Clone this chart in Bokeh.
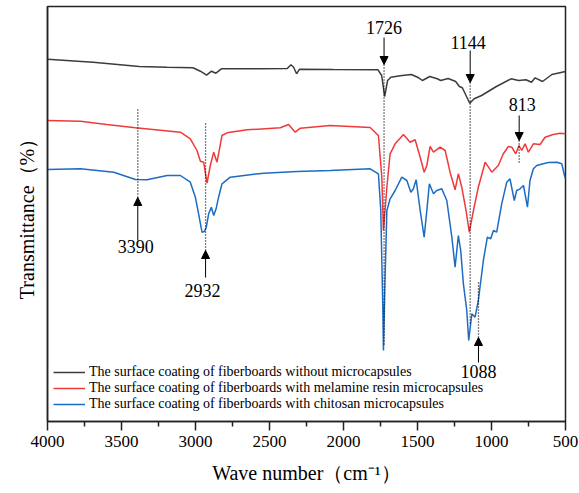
from bokeh.plotting import figure
from bokeh.models import Range1d, FixedTicker, Arrow, NormalHead, Label, Legend, LegendItem
from bokeh.embed import file_html
from bokeh.resources import INLINE

# ---------------- data (wavenumber cm-1, transmittance in arbitrary units) ----------------
black_wn = [4000, 3692, 3380, 3192, 3017, 2967, 2925, 2892, 2862, 2825, 2567, 2380, 2355, 2337,
            2317, 2297, 2068, 1767, 1742, 1722, 1702, 1680, 1617, 1542, 1492, 1467, 1417, 1367,
            1343, 1293, 1242, 1217, 1197, 1172, 1147, 1117, 1067, 967, 867, 817, 767, 730, 705,
            655, 592, 500]
black_t = [362.3, 359.3, 355, 354.3, 353.7, 350.3, 346.3, 350.3, 348.3, 352.7, 352.7, 353, 356.7,
           354.3, 347.7, 352.3, 352, 351.7, 346, 325, 341, 344.3, 345.7, 347, 343.7, 341, 345,
           342.7, 341, 343, 340, 335, 333.7, 326, 318.3, 322.7, 326, 335, 342.7, 341, 341.7,
           339.3, 343.7, 340, 347, 350]

red_wn = [4000, 3777, 3600, 3406, 3102, 3035, 2990, 2967, 2945, 2922, 2900, 2877, 2855, 2844,
          2821, 2787, 2652, 2427, 2371, 2326, 2292, 2090, 1820, 1764, 1741, 1730, 1707, 1685,
          1651, 1595, 1550, 1516, 1482, 1455, 1437, 1415, 1392, 1347, 1313, 1280, 1246, 1224,
          1201, 1172, 1150, 1122, 1089, 1043, 998, 954, 920, 886, 863, 836, 814, 796, 773, 751,
          717, 672, 638, 583, 537, 500]
red_t = [301, 300.3, 297, 293.7, 289.3, 282.7, 271, 260.3, 259.3, 238.3, 256, 269.3, 259.3,
         267.7, 286, 288.7, 291.7, 293.7, 297, 289.3, 293.3, 296, 294, 286, 244.3, 191, 234.3,
         267.7, 277.7, 287, 279.3, 281.7, 264.3, 249.3, 256, 275, 269.3, 274.3, 271, 249.3,
         231.7, 247.7, 234.3, 211, 189.3, 211, 234.3, 259.3, 249.3, 256, 267.7, 275, 274.3,
         267.7, 276, 271, 277.7, 269.3, 277.7, 277, 284.3, 287, 288.3, 287.7]

blue_wn = [4000, 3777, 3552, 3406, 3327, 3192, 3102, 3035, 3001, 2979, 2956, 2940, 2927, 2911,
           2893, 2877, 2861, 2844, 2821, 2765, 2540, 2314, 2090, 1820, 1764, 1748, 1734, 1730,
           1719, 1707, 1685, 1651, 1606, 1572, 1545, 1528, 1509, 1482, 1455, 1437, 1420, 1392,
           1370, 1336, 1302, 1268, 1246, 1224, 1208, 1190, 1167, 1154, 1133, 1111, 1089, 1055,
           1028, 1005, 987, 965, 931, 897, 875, 846, 830, 807, 784, 757, 740, 717, 694, 650,
           616, 559, 525, 507, 500]
blue_t = [252, 252.7, 249.3, 242, 241.7, 246, 246, 239.3, 224.3, 207.7, 189.3, 190, 194.3, 207.7,
          214.3, 206, 212.7, 224.3, 237.7, 244.3, 248.3, 250, 251, 252.7, 247.7, 211, 111, 71,
          144.3, 211, 222.7, 231, 244.3, 241, 229.3, 232.7, 241.7, 211, 184.3, 211, 237.7,
          227.7, 231, 232.7, 221, 184.3, 154.3, 186, 171, 137.7, 111, 81, 107.7, 104.3, 121,
          161, 184.3, 182.7, 191, 189.3, 217.7, 239.3, 242.7, 221, 231, 232.7, 236, 214.3, 241,
          252.7, 256, 257.7, 259, 259.3, 257.7, 246, 243]

series_names = ["The surface coating of fiberboards without microcapsules",
                "The surface coating of fiberboards with melamine resin microcapsules",
                "The surface coating of fiberboards with chitosan microcapsules"]

peak_wn = [3390, 2932, 1726, 1144, 1088, 813]

x_major = [4000, 3500, 3000, 2500, 2000, 1500, 1000, 500]
x_minor = [3750, 3250, 2750, 2250, 1750, 1250, 750]

# --------------- annotation layout (positions only) ---------------
# per peak: label y, arrow tail y, arrow tip y, dotted end y, label x offset(px)
ann_layout = {
    3390: (175, 181, 224, 313, -2),
    2932: (131, 144, 171, 299, -3),
    1726: (394, 384, 357, 76, 0),
    1144: (379, 371, 339, 98, -2),
    1088: (50, 59, 84, 141, 0),
    813:  (317, 306, 281, 258, 3),
}

FONT = "Liberation Serif"

p = figure(width=579, height=493, x_range=Range1d(4000, 500), y_range=Range1d(0, 415),
           output_backend="svg", toolbar_location=None,
           min_border_left=47, min_border_right=14, min_border_top=6, min_border_bottom=72)
p.xgrid.visible = False
p.ygrid.visible = False
p.outline_line_color = "#222222"
p.outline_line_width = 1.5
p.outline_line_alpha = 1.0
p.background_fill_color = "white"

xa = p.xaxis[0]
xa.ticker = FixedTicker(ticks=x_major, minor_ticks=x_minor)
xa.major_tick_in = 0
xa.major_tick_out = 9
xa.minor_tick_in = 0
xa.minor_tick_out = 5
xa.axis_line_color = "#222222"
xa.axis_line_width = 1.5
xa.major_tick_line_color = "#222222"
xa.major_tick_line_width = 1.5
xa.minor_tick_line_color = "#222222"
xa.minor_tick_line_width = 1.5
xa.major_label_text_font = FONT
xa.major_label_text_font_size = "17px"
xa.major_label_text_color = "black"
xa.major_label_standoff = 5
xa.axis_label = "Wave number（cm⁻¹）"
xa.axis_label_text_font = FONT
xa.axis_label_text_font_style = "normal"
xa.axis_label_text_font_size = "20px"
xa.axis_label_text_color = "black"
xa.axis_label_standoff = 12

ya = p.yaxis[0]
ya.ticker = FixedTicker(ticks=[])
ya.major_tick_line_color = None
ya.minor_tick_line_color = None
ya.major_label_text_font_size = "0px"
ya.major_label_standoff = 0
ya.axis_line_color = "#222222"
ya.axis_line_width = 1.5
ya.axis_label = "Transmittance（%）"
ya.axis_label_text_font = FONT
ya.axis_label_text_font_style = "normal"
ya.axis_label_text_font_size = "20px"
ya.axis_label_text_color = "black"
ya.axis_label_standoff = 10

colors = ["#3c3c3c", "#f03a3a", "#1c6cc4"]
r1 = p.line(black_wn, black_t, line_color=colors[0], line_width=1.5)
r2 = p.line(red_wn, red_t, line_color=colors[1], line_width=1.5)
r3 = p.line(blue_wn, blue_t, line_color=colors[2], line_width=1.5)

# dotted guide lines
x0 = [w for w in peak_wn]
y0 = [ann_layout[w][2] for w in peak_wn]
y1 = [ann_layout[w][3] for w in peak_wn]
p.segment(x0=x0, y0=y0, x1=x0, y1=y1, line_color="black", line_width=1.3, line_dash="1 2")

for w in peak_wn:
    ly, ty, hy, dy, dx = ann_layout[w]
    p.add_layout(Arrow(end=NormalHead(size=8, fill_color="black", line_color="black", line_width=1),
                       x_start=w, y_start=ty, x_end=w, y_end=hy,
                       line_color="black", line_width=1))
    p.add_layout(Label(x=w, y=ly, text=str(w), x_offset=dx, text_font=FONT, text_font_size="18px",
                       text_align="center", text_baseline="middle", text_color="black"))

legend = Legend(items=[LegendItem(label=series_names[0], renderers=[r1]),
                       LegendItem(label=series_names[1], renderers=[r2]),
                       LegendItem(label=series_names[2], renderers=[r3])],
                location=(6, 9))
legend.background_fill_alpha = 0
legend.border_line_color = None
legend.padding = 0
legend.margin = 0
legend.spacing = 0
legend.glyph_width = 32
legend.glyph_height = 16
legend.label_height = 16
legend.label_standoff = 4
legend.label_text_font = FONT
legend.label_text_font_size = "14px"
legend.label_text_color = "black"
p.add_layout(legend)

open("out.html", "w").write(file_html(p, INLINE))
